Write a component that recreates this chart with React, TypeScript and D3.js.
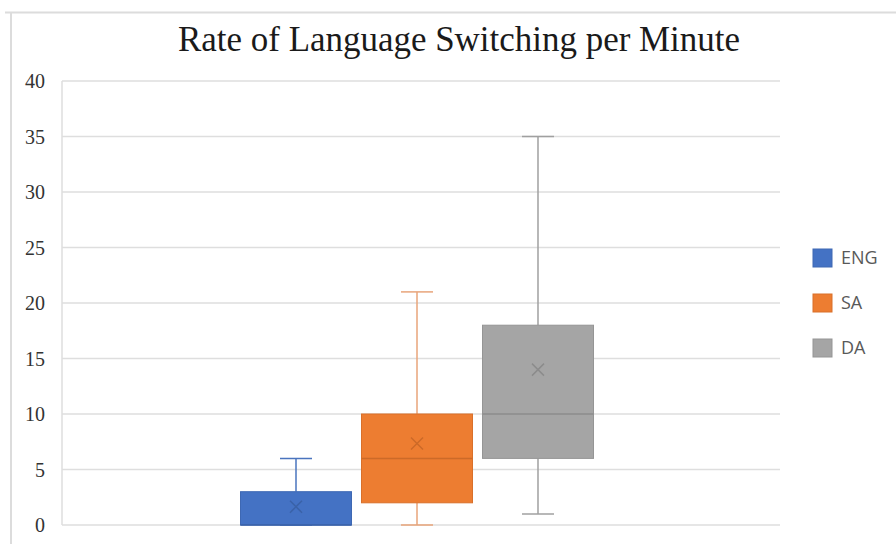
import React from "react";
import * as d3 from "d3";

const series = ["ENG", "SA", "DA"];
const minVals = [0, 0, 1];
const q1Vals = [0, 2, 6];
const medianVals = [0, 6, 10];
const q3Vals = [3, 10, 18];
const maxVals = [6, 21, 35];
const meanVals = [1.65, 7.35, 14];
const yTicks = [0, 5, 10, 15, 20, 25, 30, 35, 40];

const fills = ["#4472C4", "#ED7D31", "#A5A5A5"];
const strokes = ["#3E68B3", "#D9702A", "#959595"];
const whiskerColors = ["#4A74BE", "#E8A47A", "#A0A0A0"];
const markColors = ["#3A62A8", "#CC6A28", "#8C8C8C"];

export default function App() {
  const W = 896, H = 544;
  const left = 62, right = 780, top = 81, bottom = 525;
  const y = d3.scaleLinear().domain([0, 40]).range([bottom, top]);
  const x = d3.scaleBand<string>().domain(series).range([240.5, 593.5]).paddingInner(0.0826).paddingOuter(0);
  const bw = x.bandwidth();
  const capW = 32;
  const m = 6;

  return (
    <svg width={W} height={H} style={{ position: "absolute", left: 0, top: 0, background: "#fff" }}>
      <rect x={0} y={0} width={W} height={H} fill="#fff" />
      {/* frame */}
      <line x1={5} x2={W} y1={12.5} y2={12.5} stroke="#dcdcdc" strokeWidth={2} />
      <line x1={11} x2={11} y1={12} y2={H} stroke="#dcdcdc" strokeWidth={2} />
      <text x={459} y={51} textAnchor="middle" fontFamily="Liberation Serif, Times New Roman, serif" fontSize={36} textLength={562} lengthAdjust="spacingAndGlyphs" fill="#1a1a1a">
        Rate of Language Switching per Minute
      </text>
      {/* grid */}
      {yTicks.map((t) => (
        <g key={t}>
          <line x1={left} x2={right} y1={y(t)} y2={y(t)} stroke="#dedede" strokeWidth={1.5} />
          <text x={45} y={y(t)} dy="0.35em" textAnchor="end" fontFamily="Liberation Serif, Times New Roman, serif" fontSize={20} fill="#333">
            {t}
          </text>
        </g>
      ))}
      <line x1={left} x2={left} y1={top} y2={bottom} stroke="#dedede" strokeWidth={1.5} />
      {/* boxes */}
      {series.map((s, i) => {
        const x0 = x(s)!;
        const cx = x0 + bw / 2;
        return (
          <g key={s}>
            <line x1={cx} x2={cx} y1={y(maxVals[i])} y2={y(q3Vals[i])} stroke={whiskerColors[i]} strokeWidth={1.5} />
            <line x1={cx} x2={cx} y1={y(minVals[i])} y2={y(q1Vals[i])} stroke={whiskerColors[i]} strokeWidth={1.5} />
            <line x1={cx - capW / 2} x2={cx + capW / 2} y1={y(maxVals[i])} y2={y(maxVals[i])} stroke={whiskerColors[i]} strokeWidth={1.5} />
            <line x1={cx - capW / 2} x2={cx + capW / 2} y1={y(minVals[i])} y2={y(minVals[i])} stroke={whiskerColors[i]} strokeWidth={1.5} />
            <rect x={x0} y={y(q3Vals[i])} width={bw} height={y(q1Vals[i]) - y(q3Vals[i])} fill={fills[i]} stroke={strokes[i]} strokeWidth={1} />
            <line x1={x0} x2={x0 + bw} y1={y(medianVals[i])} y2={y(medianVals[i])} stroke={markColors[i]} strokeWidth={1.5} />
            <path
              d={`M${cx - m},${y(meanVals[i]) - m}L${cx + m},${y(meanVals[i]) + m}M${cx + m},${y(meanVals[i]) - m}L${cx - m},${y(meanVals[i]) + m}`}
              stroke={markColors[i]}
              strokeWidth={1.5}
              fill="none"
            />
          </g>
        );
      })}
      {/* legend */}
      {series.map((s, i) => (
        <g key={s} transform={`translate(813, ${258 + i * 45})`}>
          <rect x={0} y={-9} width={19} height={18} fill={fills[i]} stroke={strokes[i]} strokeWidth={1} />
          <text x={28} y={0} dy="0.35em" fontFamily="Open Sans, Noto Sans, sans-serif" fontSize={18} fill="#595959">
            {s}
          </text>
        </g>
      ))}
    </svg>
  );
}
